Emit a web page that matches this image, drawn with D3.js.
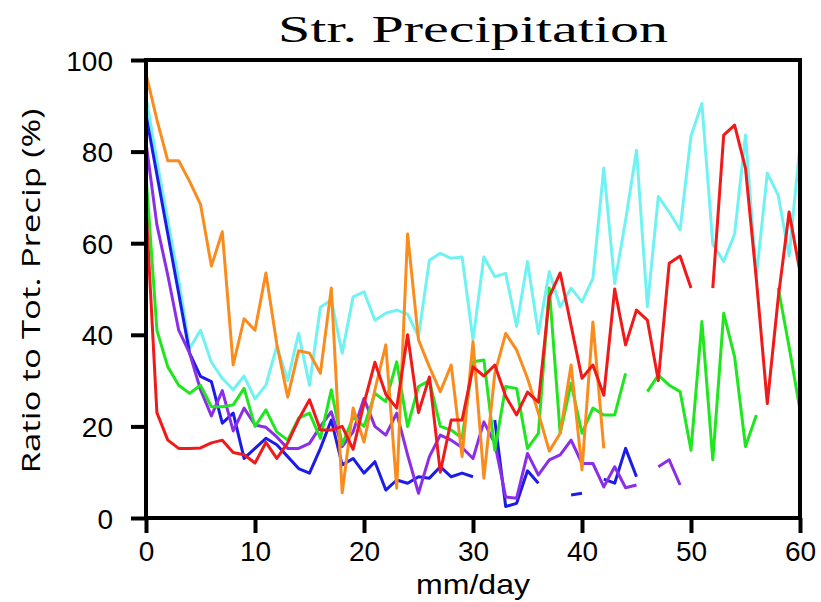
<!DOCTYPE html>
<html>
<head>
<meta charset="utf-8">
<script src="https://cdn.jsdelivr.net/npm/d3@7"></script>
<style>
  body { margin: 0; background: #fff; }
  svg { display: block; }
</style>
</head>
<body>
<div id="chart"></div>
<script>
// rain-rate bins (mm/day)
var bins = [0,1,2,3,4,5,6,7,8,9,10,11,12,13,14,15,16,17,18,19,20,21,22,23,24,25,26,27,28,29,30,
            31,32,33,34,35,36,37,38,39,40,41,42,43,44,45,46,47,48,49,50,51,52,53,54,55,56,57,58,59,60];
var xTicks = [0,10,20,30,40,50,60];
var yTicks = [0,20,40,60,80,100];

var redVals = [68,23,17,15.2,15.2,15.3,16.4,17,14.3,13.8,12,16.5,13,16.4,21.5,25.8,19.2,19.2,20,15,
  25,34,27,24,40,23,30.8,10,21.4,21.4,33,31,33.4,26.6,22.5,27.5,25.3,48.3,53.5,42,
  30.5,33.4,26.8,50,37.8,45.4,43.2,30,55.6,57.2,50.2,null,50.2,83.6,85.8,76.4,52,25,48,66.8,53.7];
var orangeVals = [97,87,78,78,73.5,68.5,55,62.5,33.4,43.5,41,53.5,38,26.4,36.5,36,31.6,50.2,5.5,24,
  16.6,28,37.8,6.5,62,38.9,33,27.6,33.4,13.4,38.5,8.7,31.6,40.3,36.7,30.5,22.9,14.6,18.5,33.4,
  10.5,42.8,15.2,null,null,null,null,null,null,null,null,null,null,null,null,null,null,null,null,null,null];
var cyanVals = [92,78,65,52,37,41,34,30.5,28,31,26,29,37.5,30,40.3,29,46,47.6,36,48.3,
  49.4,43.2,44.7,45.4,44.5,39.6,56.3,57.8,56.7,57,38.9,57,52.7,53.4,41.8,56,40.3,53.8,46.1,50.2,
  47.2,52.3,76.4,51.2,65,80.3,46.1,70.2,66.8,62.9,83.4,90.5,59.8,56,62,83.6,52.7,75.3,70.5,57.2,81.4];
var greenVals = [75,41,33,29,27.2,29,24.3,24.3,24.7,28.3,20,23.6,18.8,17,21.8,22.9,17.4,28,16,22,
  20,27.2,25.4,34.1,20,28.7,30,20,19.2,17.4,34.1,34.5,14.8,28.7,28.3,15.2,18.5,50.2,18.5,29.4,
  18.5,24,22.5,22.5,31.6,null,27.6,31.2,29,27.6,14.8,42.9,12.7,44.7,35.2,15.6,22.5,null,50.2,37.4,23.6];
var blueVals = [88,75,62,49,36,30.9,29.8,20.7,22.9,13,15.2,17.4,16,13.4,10.8,9.8,15.2,21.4,11.6,13,
  9.8,12.3,6.1,8.3,7.6,9,8.7,11.2,9,9.8,9,null,21.4,2.5,3.2,10.3,7.6,null,null,5,
  5.4,null,8.5,7.6,15.2,9,null,null,null,null,null,null,null,null,null,null,null,null,null,null,null];
var purpleVals = [82,64,53,41,36,28,22.3,27.8,19,24,20.3,19.8,17.7,15.2,15.2,16.3,20,23.2,15.6,18.8,
  26.1,20,18.1,22.9,13.8,5.4,13.4,18.1,17,15.4,13,21,16.3,4.6,4.3,14.1,9.4,12.7,13.8,17,
  11.9,11.9,6.8,11.2,6.6,7.2,null,11.2,12.7,7.2,null,null,null,null,null,null,null,null,null,null,null];

var series = [
  { name: "cyan",   color: "#70f2f2", values: cyanVals },
  { name: "blue",   color: "#1c1ce8", values: blueVals },
  { name: "purple", color: "#8a2ee8", values: purpleVals },
  { name: "green",  color: "#1fe61f", values: greenVals },
  { name: "orange", color: "#fa8c1e", values: orangeVals },
  { name: "red",    color: "#f01a1a", values: redVals }
];

var width = 821, height = 602;
var margin = { top: 60, right: 21, bottom: 84, left: 146 };

var svg = d3.select("#chart").append("svg")
    .attr("width", width).attr("height", height);
svg.append("rect").attr("width", width).attr("height", height).attr("fill", "#fff");

var x = d3.scaleLinear().domain([0, 60]).range([margin.left, width - margin.right]);
var y = d3.scaleLinear().domain([0, 100]).range([height - margin.bottom, margin.top]);

var plot = svg.append("g");

var line = d3.line()
    .defined(function(d) { return d[1] != null; })
    .x(function(d) { return x(d[0]); })
    .y(function(d) { return y(d[1]); });

plot.selectAll("path.series")
    .data(series)
  .enter().append("path")
    .attr("class", "series")
    .attr("fill", "none")
    .attr("stroke", function(d) { return d.color; })
    .attr("stroke-width", 3)
    .attr("stroke-linejoin", "round")
    .attr("d", function(d) {
        return line(bins.map(function(b, i) { return [b, d.values[i]]; }));
    });

// axes
var xAxis = svg.append("g")
    .attr("transform", "translate(0," + y(0) + ")")
    .call(d3.axisBottom(x).tickValues(xTicks).tickSize(15).tickPadding(4));
var yAxis = svg.append("g")
    .attr("transform", "translate(" + x(0) + ",0)")
    .call(d3.axisLeft(y).tickValues(yTicks).tickSize(15).tickPadding(18));

[xAxis, yAxis].forEach(function(a) {
    a.select(".domain").remove();
    a.selectAll(".tick line").attr("stroke", "#000").attr("stroke-width", 4);
    a.selectAll(".tick text")
        .attr("fill", "#000")
        .style("font-family", "'Liberation Sans', Arial, sans-serif")
        .style("font-size", "28px");
});
xAxis.selectAll(".tick text").attr("dy", "0.85em");
yAxis.selectAll(".tick text").attr("dy", "0.36em");

// frame
svg.append("rect")
    .attr("x", x(0)).attr("y", y(100))
    .attr("width", x(60) - x(0)).attr("height", y(0) - y(100))
    .attr("fill", "none").attr("stroke", "#000").attr("stroke-width", 4);

// titles
svg.append("text")
    .attr("x", (x(0) + x(60)) / 2).attr("y", 42)
    .attr("text-anchor", "middle")
    .attr("textLength", 390).attr("lengthAdjust", "spacingAndGlyphs")
    .style("font-family", "'Liberation Serif', 'DejaVu Serif', serif")
    .style("font-size", "38px")
    .text("Str. Precipitation");

svg.append("text")
    .attr("x", (x(0) + x(60)) / 2).attr("y", 594)
    .attr("text-anchor", "middle")
    .attr("textLength", 114).attr("lengthAdjust", "spacingAndGlyphs")
    .style("font-family", "'Liberation Sans', Arial, sans-serif")
    .style("font-size", "28px")
    .text("mm/day");

svg.append("text")
    .attr("transform", "translate(40," + ((y(0) + y(100)) / 2 + 2) + ") rotate(-90)")
    .attr("text-anchor", "middle")
    .attr("textLength", 365).attr("lengthAdjust", "spacingAndGlyphs")
    .style("font-family", "'Open Sans', 'Liberation Sans', sans-serif")
    .style("font-size", "26px")
    .text("Ratio to Tot. Precip (%)");
</script>
</body>
</html>
